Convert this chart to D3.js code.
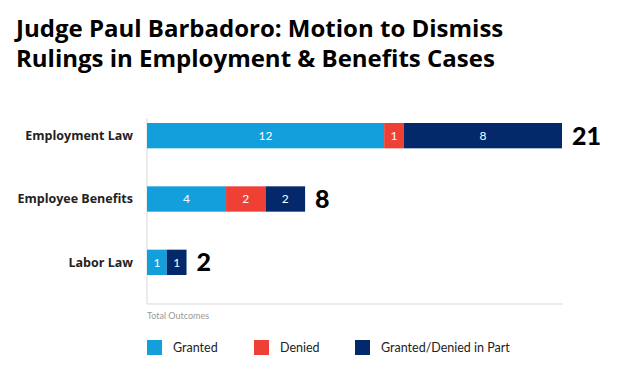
<!DOCTYPE html>
<html>
<head>
<meta charset="utf-8">
<script src="https://cdn.jsdelivr.net/npm/d3@7"></script>
<style>
	body {margin:0; background:#fff;}
	svg {display:block; font-family:Lato, "Open Sans", sans-serif;}
	.heavy {font-family:"Open Sans", sans-serif;}
</style>
</head>
<body>
<div id="chart"></div>
<script>
//Data
var categories = ["Employment Law", "Employee Benefits", "Labor Law"];
var seriesNames = ["Granted", "Denied", "Granted/Denied in Part"];
var granted = [12, 4, 1];
var denied = [1, 2, 0];
var partial = [8, 2, 1];
var colors = ["#129fdc", "#ef4036", "#03296a"];

var width = 633, height = 370;

var svg = d3.select('#chart').append('svg')
	.attr('width', width)
	.attr('height', height);

//Title
svg.append('text')
	.attr('class', 'heavy')
	.attr('x', 16).attr('y', 37)
	.style('font-size', '24px').style('font-weight', 700)
	.text('Judge Paul Barbadoro: Motion to Dismiss');
svg.append('text')
	.attr('class', 'heavy')
	.attr('x', 16).attr('y', 67)
	.style('font-size', '24px').style('font-weight', 700)
	.text('Rulings in Employment & Benefits Cases');

//Build stacked rows
var rows = categories.map(function(c, i) {
	return {cat: c, Granted: granted[i], Denied: denied[i], "Granted/Denied in Part": partial[i]};
});
var stack = d3.stack().keys(seriesNames)(rows);

var x = d3.scaleLinear().domain([0, 21]).range([147, 562]);
var y = d3.scaleBand().domain(categories).range([104, 294]).paddingInner(0.6).paddingOuter(0.3);

//Axis lines
svg.append('line')
	.attr('x1', 147).attr('x2', 147).attr('y1', 118).attr('y2', 304)
	.attr('stroke', '#d9d9d9').attr('stroke-width', 1);
svg.append('line')
	.attr('x1', 147).attr('x2', 563).attr('y1', 304).attr('y2', 304)
	.attr('stroke', '#d9d9d9').attr('stroke-width', 1);

//Category labels
svg.selectAll('text.cat')
	.data(categories)
	.enter().append('text')
		.attr('class', 'cat heavy')
		.attr('x', 133)
		.attr('y', function(d) {return y(d) + y.bandwidth()/2;})
		.attr('dy', '0.35em')
		.attr('text-anchor', 'end')
		.style('font-size', '12.5px').style('font-weight', 700)
		.attr('fill', '#222')
		.text(function(d) {return d;});

//Bars
var layers = svg.selectAll('g.layer')
	.data(stack)
	.enter().append('g')
		.attr('class', 'layer')
		.attr('fill', function(d, i) {return colors[i];});

layers.selectAll('rect')
	.data(function(d) {return d.filter(function(p) {return p[1] > p[0];});})
	.enter().append('rect')
		.attr('x', function(d) {return x(d[0]);})
		.attr('y', function(d) {return y(d.data.cat);})
		.attr('width', function(d) {return x(d[1]) - x(d[0]);})
		.attr('height', y.bandwidth());

layers.selectAll('text')
	.data(function(d) {return d.filter(function(p) {return p[1] > p[0];});})
	.enter().append('text')
		.attr('x', function(d) {return (x(d[0]) + x(d[1]))/2;})
		.attr('y', function(d) {return y(d.data.cat) + y.bandwidth()/2;})
		.attr('dy', '0.35em')
		.attr('text-anchor', 'middle')
		.attr('fill', '#fff')
		.style('font-size', '12px')
		.text(function(d) {return d[1] - d[0];});

//Totals
svg.selectAll('text.total')
	.data(rows)
	.enter().append('text')
		.attr('class', 'total')
		.attr('x', function(d) {return x(d.Granted + d.Denied + d["Granted/Denied in Part"]) + 10;})
		.attr('y', function(d) {return y(d.cat) + y.bandwidth()/2;})
		.attr('dy', '0.36em')
		.style('font-size', '25px').style('font-weight', 900)
		.attr('fill', '#000')
		.text(function(d) {return d.Granted + d.Denied + d["Granted/Denied in Part"];});

//Axis caption
svg.append('text')
	.attr('x', 147).attr('y', 319)
	.style('font-size', '9px')
	.attr('fill', '#999')
	.text('Total Outcomes');

//Legend
var legendX = [147, 254, 355];
var legend = svg.selectAll('g.legend')
	.data(seriesNames)
	.enter().append('g')
		.attr('class', 'legend')
		.attr('transform', function(d, i) {return 'translate(' + legendX[i] + ',340)';});
legend.append('rect')
	.attr('width', 15).attr('height', 15)
	.attr('fill', function(d, i) {return colors[i];});
legend.append('text')
	.attr('x', 26).attr('y', 8)
	.attr('dy', '0.35em')
	.style('font-size', '12.5px')
	.attr('fill', '#222')
	.text(function(d) {return d;});
</script>
</body>
</html>
